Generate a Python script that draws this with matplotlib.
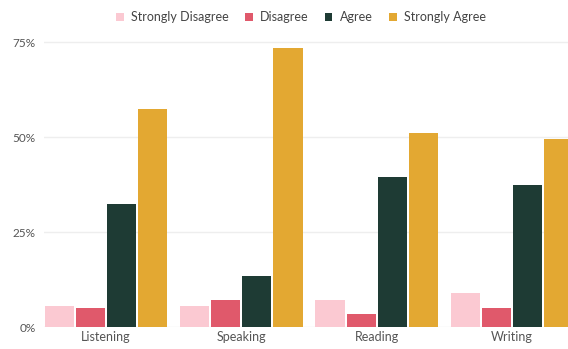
import numpy as np
import matplotlib.pyplot as plt
from matplotlib.ticker import PercentFormatter

plt.rcParams['font.family'] = ['Lato', 'DejaVu Sans']

skills = ['Listening', 'Speaking', 'Reading', 'Writing']
responses = ['Strongly Disagree', 'Disagree', 'Agree', 'Strongly Agree']
strongly_disagree = [5.5, 5.5, 7, 9]
disagree = [5, 7, 3.5, 5]
agree = [32.5, 13.5, 39.5, 37.5]
strongly_agree = [57.5, 73.5, 51, 49.5]
colors = ['#fbc9d2', '#e0596b', '#1e3b34', '#e3a832']

series = [strongly_disagree, disagree, agree, strongly_agree]

fig = plt.figure(figsize=(5.68, 3.49), dpi=100)
ax = fig.add_axes([0.0775, 0.063, 0.943, 0.871])

x = np.arange(len(skills))
w = 0.215
for i, (vals, lab, c) in enumerate(zip(series, responses, colors)):
    ax.bar(x + (i - 1.5) * 0.23, vals, w, color=c, label=lab, zorder=3)

ax.set_xlim(-0.458, 3.5)
ax.set_ylim(0, 80)
ax.set_yticks([0, 25, 50, 75])
ax.yaxis.set_major_formatter(PercentFormatter(decimals=0))
ax.set_xticks(x)
ax.set_xticklabels(skills)
ax.grid(axis='y', color='#eeeeee', linewidth=1, zorder=0)
for s in ax.spines.values():
    s.set_visible(False)
ax.tick_params(axis='both', length=0, labelsize=9, colors='#555555', pad=3)
ax.tick_params(axis='y', pad=6, labelsize=8.5)

fig.legend(loc='upper center', bbox_to_anchor=(0.53, 1.0), ncol=4, frameon=False,
           fontsize=9, handlelength=0.6, handleheight=0.6, columnspacing=1.3,
           handletextpad=0.6, labelcolor='#444444')

fig.savefig('out.png', dpi=100, facecolor='white')
